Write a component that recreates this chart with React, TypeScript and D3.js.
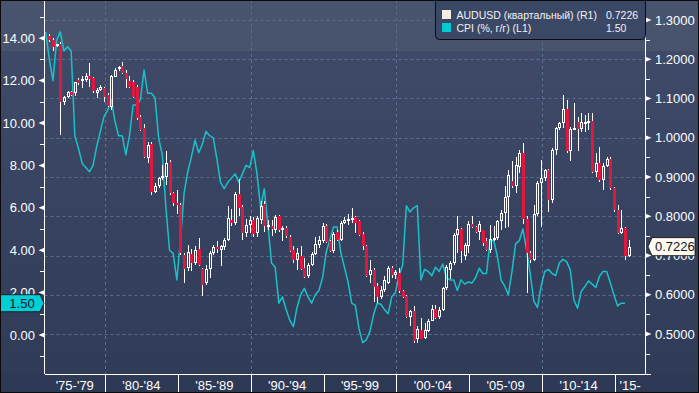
import React from 'react';
import * as d3 from 'd3';

// AUDUSD quarterly candles, first = 1976 Q1
const candleStart = 1976;
const audOpen = [1.259,1.249,1.234,1.239,1.090,1.105,1.117,1.113,1.147,1.145,1.147,1.158,1.153,1.115,1.122,1.126,1.109,1.078,1.156,1.175,1.183,1.166,1.145,1.143,1.130,1.054,1.024,0.948,0.985,0.863,0.876,0.897,0.901,0.939,0.859,0.834,0.829,0.702,0.667,0.705,0.681,0.716,0.666,0.630,0.666,0.706,0.722,0.715,0.722,0.740,0.790,0.783,0.857,0.823,0.757,0.778,0.791,0.757,0.791,0.832,0.772,0.774,0.766,0.801,0.764,0.770,0.747,0.715,0.688,0.700,0.668,0.647,0.677,0.705,0.728,0.738,0.776,0.736,0.711,0.759,0.740,0.784,0.787,0.791,0.798,0.787,0.755,0.725,0.650,0.664,0.622,0.594,0.613,0.630,0.668,0.651,0.655,0.609,0.598,0.543,0.558,0.487,0.511,0.490,0.507,0.534,0.564,0.543,0.562,0.617,0.664,0.681,0.753,0.767,0.698,0.723,0.781,0.773,0.759,0.764,0.736,0.715,0.740,0.745,0.787,0.808,0.849,0.891,0.876,0.925,0.960,0.792,0.706,0.689,0.807,0.884,0.897,0.918,0.841,0.969,1.024,1.037,1.072,0.966,1.022,1.041,1.022,1.037,1.039,1.043,0.913,0.935,0.892,0.928,0.945,0.871,0.816,0.758,0.771,0.699];
const audHigh = [1.264,1.253,1.240,1.245,1.107,1.118,1.120,1.143,1.153,1.158,1.164,1.190,1.156,1.126,1.135,1.130,1.113,1.160,1.177,1.183,1.192,1.173,1.158,1.147,1.135,1.058,1.035,0.990,0.988,0.884,0.901,0.930,0.965,0.944,0.863,0.867,0.833,0.706,0.728,0.717,0.723,0.744,0.668,0.677,0.711,0.728,0.736,0.728,0.745,0.827,0.819,0.861,0.895,0.829,0.793,0.800,0.798,0.800,0.838,0.840,0.791,0.791,0.804,0.804,0.774,0.774,0.751,0.725,0.719,0.725,0.694,0.681,0.708,0.747,0.749,0.783,0.781,0.740,0.759,0.766,0.787,0.798,0.806,0.821,0.801,0.791,0.759,0.727,0.689,0.668,0.630,0.623,0.649,0.674,0.672,0.662,0.668,0.611,0.600,0.562,0.572,0.520,0.541,0.527,0.538,0.575,0.575,0.569,0.621,0.675,0.685,0.757,0.800,0.770,0.732,0.787,0.800,0.775,0.787,0.766,0.745,0.778,0.774,0.791,0.817,0.876,0.918,0.940,0.952,0.969,0.986,0.800,0.712,0.828,0.890,0.943,0.920,0.920,0.975,1.028,1.040,1.109,1.096,1.028,1.088,1.054,1.062,1.058,1.062,1.062,0.960,0.977,0.935,0.950,0.952,0.875,0.828,0.816,0.773,0.740];
const audLow = [1.245,1.222,1.230,1.007,1.084,1.101,1.107,1.107,1.135,1.126,1.143,1.130,1.115,1.101,1.118,1.092,1.079,1.071,1.154,1.169,1.163,1.126,1.126,1.101,1.046,1.018,0.948,0.935,0.855,0.859,0.872,0.893,0.880,0.855,0.825,0.805,0.702,0.629,0.660,0.660,0.677,0.672,0.598,0.626,0.643,0.702,0.706,0.674,0.715,0.736,0.774,0.778,0.800,0.739,0.747,0.757,0.747,0.747,0.781,0.759,0.764,0.749,0.757,0.761,0.736,0.745,0.708,0.682,0.664,0.662,0.643,0.643,0.672,0.701,0.718,0.733,0.732,0.708,0.706,0.736,0.736,0.781,0.778,0.783,0.757,0.749,0.715,0.645,0.630,0.581,0.579,0.589,0.606,0.628,0.643,0.640,0.604,0.592,0.541,0.520,0.478,0.478,0.487,0.487,0.505,0.532,0.538,0.538,0.558,0.613,0.640,0.677,0.706,0.681,0.689,0.706,0.770,0.757,0.740,0.723,0.711,0.706,0.736,0.740,0.766,0.770,0.773,0.872,0.859,0.910,0.781,0.604,0.680,0.685,0.800,0.773,0.890,0.812,0.835,0.956,1.020,1.024,0.962,0.940,1.020,0.966,1.015,1.015,1.020,0.911,0.900,0.888,0.867,0.925,0.867,0.810,0.756,0.756,0.689,0.697];
const audClose = [1.250,1.232,1.238,1.090,1.103,1.116,1.109,1.141,1.139,1.149,1.158,1.149,1.118,1.122,1.129,1.105,1.081,1.158,1.173,1.181,1.166,1.149,1.130,1.105,1.050,1.020,0.952,0.982,0.863,0.878,0.897,0.902,0.935,0.859,0.834,0.829,0.706,0.665,0.709,0.681,0.713,0.677,0.626,0.666,0.706,0.721,0.718,0.723,0.740,0.795,0.783,0.857,0.821,0.757,0.778,0.791,0.755,0.795,0.827,0.774,0.778,0.767,0.798,0.764,0.770,0.749,0.711,0.688,0.706,0.666,0.645,0.677,0.705,0.730,0.740,0.776,0.734,0.711,0.755,0.740,0.784,0.791,0.794,0.795,0.784,0.753,0.723,0.648,0.664,0.620,0.594,0.613,0.638,0.668,0.651,0.658,0.609,0.594,0.543,0.558,0.482,0.513,0.488,0.511,0.534,0.564,0.541,0.562,0.617,0.671,0.681,0.753,0.767,0.711,0.728,0.781,0.773,0.761,0.781,0.732,0.715,0.742,0.745,0.787,0.808,0.849,0.905,0.876,0.930,0.960,0.792,0.706,0.689,0.807,0.884,0.897,0.918,0.841,0.969,1.024,1.037,1.072,0.966,1.022,1.026,1.022,1.041,1.041,1.043,0.913,0.935,0.892,0.928,0.945,0.871,0.816,0.758,0.771,0.699,0.7226];

// CPI y/y %, quarterly, first = 1975 Q4
const cpiStart = 1975.75;
const cpi = [14.3,13.0,12.0,13.9,14.3,13.4,13.6,13.4,9.4,8.8,8.1,7.9,7.7,8.0,8.9,9.6,10.3,10.6,11.1,10.1,9.4,9.4,8.5,9.4,10.85,10.85,11.1,12.5,11.4,11.4,11.2,9.3,8.5,6.0,4.0,3.85,2.6,4.5,6.7,7.7,8.4,9.2,8.6,9.0,9.6,9.4,9.3,8.3,7.2,6.9,7.2,7.4,7.6,7.2,7.6,8.0,7.9,8.7,7.6,6.0,6.9,5.2,3.4,3.2,1.5,1.8,1.2,0.7,0.4,1.3,1.9,2.2,1.8,1.5,1.9,2.1,2.7,3.9,4.5,5.1,5.1,3.9,3.2,2.5,1.5,1.4,0.3,-0.36,-0.23,0.16,0.95,1.5,1.45,1.2,1.0,1.8,2.0,2.8,3.3,6.1,5.8,6.0,6.1,2.6,3.1,3.0,2.8,3.2,3.0,3.35,2.7,2.6,2.6,2.1,2.6,2.4,2.5,2.45,2.7,3.15,2.9,2.9,4.45,4.45,3.7,2.6,2.3,1.9,3.0,4.3,4.45,5.0,4.0,2.9,1.6,1.3,2.3,3.0,3.1,2.9,2.8,3.4,3.57,3.46,3.07,1.65,1.26,2.05,2.28,2.55,2.4,2.24,2.76,3.0,3.0,2.45,1.89,1.37,1.5,1.5];

const leftMajor = [0, 2, 4, 6, 8, 10, 12, 14];
const leftMinor = [-1, 1, 3, 5, 7, 9, 11, 13, 15];
const rightMajor = [0.5, 0.6, 0.7, 0.8, 0.9, 1.0, 1.1, 1.2, 1.3];
const rightMinor = [0.45, 0.55, 0.65, 0.75, 0.85, 0.95, 1.05, 1.15, 1.25];
const periodStarts = [1975, 1980, 1985, 1990, 1995, 2000, 2005, 2010, 2015];
const periodLabels = ["'75-'79", "'80-'84", "'85-'89", "'90-'94", "'95-'99", "'00-'04", "'05-'09", "'10-'14", "'15-"];
const gridYears = [1980, 1990, 2000, 2010];
const lastAud = 0.7226;
const lastCpi = 1.5;
const legendAud = 'AUDUSD (квартальный) (R1)';
const legendCpi = 'CPI (%, г/г) (L1)';

const RED = '#e0173f';
const CYAN = '#19c2ca';
const GRID = '#58708f';
const FONT = '"Liberation Sans", Arial, sans-serif';

export default function App() {
  const W = 699, H = 393;
  const L = 44.5, R = 645.5, T = 0, B = 374;
  const x = d3.scaleLinear().domain([1980, 2015]).range([105, 615]);
  const tMin = x.invert(L), tMax = x.invert(R);
  const yL = d3.scaleLinear().domain([0, 14]).range([335, 38.2]);
  const yR = d3.scaleLinear().domain([0.5, 1.3]).range([334, 20]);
  const qOff = 0.18;

  const cpiLine = d3.line<number>()
    .x((_, i) => x(cpiStart + i / 4 + qOff))
    .y((v) => yL(v))(cpi) || '';

  const candles = audOpen.map((o, i) => {
    const c = audClose[i], h = audHigh[i], l = audLow[i];
    const cx = Math.round(x(candleStart + i / 4 + qOff));
    const up = c >= o;
    const yTop = Math.round(yR(Math.max(o, c)));
    const yBot = Math.max(Math.round(yR(Math.min(o, c))), yTop + 2);
    const yH = Math.round(yR(h)), yLo = Math.round(yR(l));
    return (
      <g key={i}>
        {up ? (
          <>
            <line x1={cx + 0.5} x2={cx + 0.5} y1={yH} y2={yTop} stroke="#fff" />
            <line x1={cx + 0.5} x2={cx + 0.5} y1={yBot} y2={yLo} stroke="#fff" />
            <rect x={cx - 0.5} y={yTop + 0.5} width={2} height={yBot - yTop - 1} fill="none" stroke="#fff" />
          </>
        ) : (
          <>
            <line x1={cx + 0.5} x2={cx + 0.5} y1={yH} y2={yLo} stroke="#fff" />
            <rect x={cx - 1} y={yTop} width={3} height={yBot - yTop} fill={RED} />
          </>
        )}
      </g>
    );
  });

  const yCpiMark = yL(lastCpi);
  const yAudMark = yR(lastAud);

  return (
    <svg width={W} height={H} style={{ position: 'fixed', left: 0, top: 0 }} fontFamily={FONT}>
      <defs>
        <linearGradient id="bg" x1="0" y1="0" x2="0" y2="1">
          <stop offset="0" stopColor="#3e4a67" />
          <stop offset="1" stopColor="#2f3b57" />
        </linearGradient>
        <clipPath id="plotClip"><rect x={L} y={T} width={R - L} height={B - T} /></clipPath>
      </defs>
      <rect x={0} y={0} width={W} height={H} fill="#2d3955" />
      <rect x={0} y={51} width={W} height={B - 51} fill="url(#bg)" />
      <rect x={0} y={0} width={W} height={51} fill="#48546e" />

      {/* grid */}
      {rightMajor.map((v) => (
        <line key={'gh' + v} x1={L} x2={R} y1={Math.round(yR(v)) + 0.5} y2={Math.round(yR(v)) + 0.5} stroke={GRID} strokeDasharray="3,3" />
      ))}
      {gridYears.map((yr) => (
        <line key={'gv' + yr} x1={Math.round(x(yr)) + 0.5} x2={Math.round(x(yr)) + 0.5} y1={T} y2={B} stroke={GRID} strokeDasharray="3,3" />
      ))}

      <g clipPath="url(#plotClip)">
        <path d={cpiLine} fill="none" stroke={CYAN} strokeWidth={1.5} strokeLinejoin="round" />
        <g shapeRendering="crispEdges">{candles}</g>
      </g>

      {/* axes lines */}
      <g stroke="#fff" shapeRendering="crispEdges">
        <line x1={L} x2={L} y1={0} y2={B} />
        <line x1={R} x2={R} y1={0} y2={B} />
        <line x1={L} x2={R + 5} y1={B + 0.5} y2={B + 0.5} />
      </g>

      {/* left axis */}
      {leftMinor.map((v) => (
        <line key={'lm' + v} x1={40} x2={L} y1={Math.round(yL(v)) + 0.5} y2={Math.round(yL(v)) + 0.5} stroke="#fff" shapeRendering="crispEdges" />
      ))}
      {leftMajor.map((v) => {
        const yy = yL(v);
        return (
          <g key={'lM' + v}>
            <path d={`M${L},${yy - 2.5} L${L - 6},${yy} L${L},${yy + 2.5} Z`} fill="#fff" />
            <text x={35} y={yy} dy="0.36em" textAnchor="end" fill="#fff" fontSize={13}>{v.toFixed(2)}</text>
          </g>
        );
      })}

      {/* right axis */}
      {rightMinor.map((v) => (
        <line key={'rm' + v} x1={R} x2={R + 4} y1={Math.round(yR(v)) + 0.5} y2={Math.round(yR(v)) + 0.5} stroke="#fff" shapeRendering="crispEdges" />
      ))}
      {rightMajor.map((v) => {
        const yy = yR(v);
        return (
          <g key={'rM' + v}>
            <path d={`M${R},${yy - 2.5} L${R + 6},${yy} L${R},${yy + 2.5} Z`} fill="#fff" />
            <text x={655} y={yy} dy="0.36em" fill="#fff" fontSize={13}>{v.toFixed(4)}</text>
          </g>
        );
      })}

      {/* x axis */}
      {periodStarts.map((s, i) => {
        const a = Math.max(s, tMin), b = Math.min(s + 5, tMax);
        const cx = (x(a) + x(b)) / 2;
        return (
          <g key={'p' + s}>
            {s > 1975 && (
              <line x1={Math.round(x(s)) + 0.5} x2={Math.round(x(s)) + 0.5} y1={B} y2={H} stroke="#fff" shapeRendering="crispEdges" />
            )}
            <text x={cx} y={385} dy="0.36em" textAnchor="middle" fill="#fff" fontSize={13}>{periodLabels[i]}</text>
          </g>
        );
      })}

      {/* last value markers */}
      <path d={`M0,${yCpiMark - 8.5} L40,${yCpiMark - 8.5} L44,${yCpiMark} L40,${yCpiMark + 8.5} L0,${yCpiMark + 8.5} Z`} fill="#00ced6" stroke="#0a0a0a" strokeWidth={0.8} />
      <text x={22} y={yCpiMark} dy="0.36em" textAnchor="middle" fill="#0b1626" fontSize={13}>{lastCpi.toFixed(2)}</text>
      <path d={`M648,${yAudMark} L652,${yAudMark - 9} L695,${yAudMark - 9} L695,${yAudMark + 9} L652,${yAudMark + 9} Z`} fill="#fffaf0" stroke="#0a0a0a" strokeWidth={0.8} />
      <text x={655} y={yAudMark} dy="0.36em" fill="#0b1626" fontSize={13}>{lastAud.toFixed(4)}</text>

      {/* legend */}
      <rect x={435.5} y={-5} width={210} height={44.5} rx={4} fill="#3b4865" stroke="#0d0d0d" />
      <rect x={442} y={10} width={9} height={9} fill="#f6eee2" />
      <rect x={442} y={23} width={9} height={9} fill="#00ccd4" />
      <text x={456.5} y={18.5} fill="#f2f2f2" fontSize={10.5}>{legendAud}</text>
      <text x={456.5} y={31.5} fill="#f2f2f2" fontSize={10.5}>{legendCpi}</text>
      <text x={606} y={18.5} fill="#f2f2f2" fontSize={10.5}>{lastAud.toFixed(4)}</text>
      <text x={606} y={31.5} fill="#f2f2f2" fontSize={10.5}>{lastCpi.toFixed(2)}</text>

      <rect x={0.5} y={0.5} width={W - 1} height={H - 1} fill="none" stroke="#0a0a0a" />
    </svg>
  );
}
